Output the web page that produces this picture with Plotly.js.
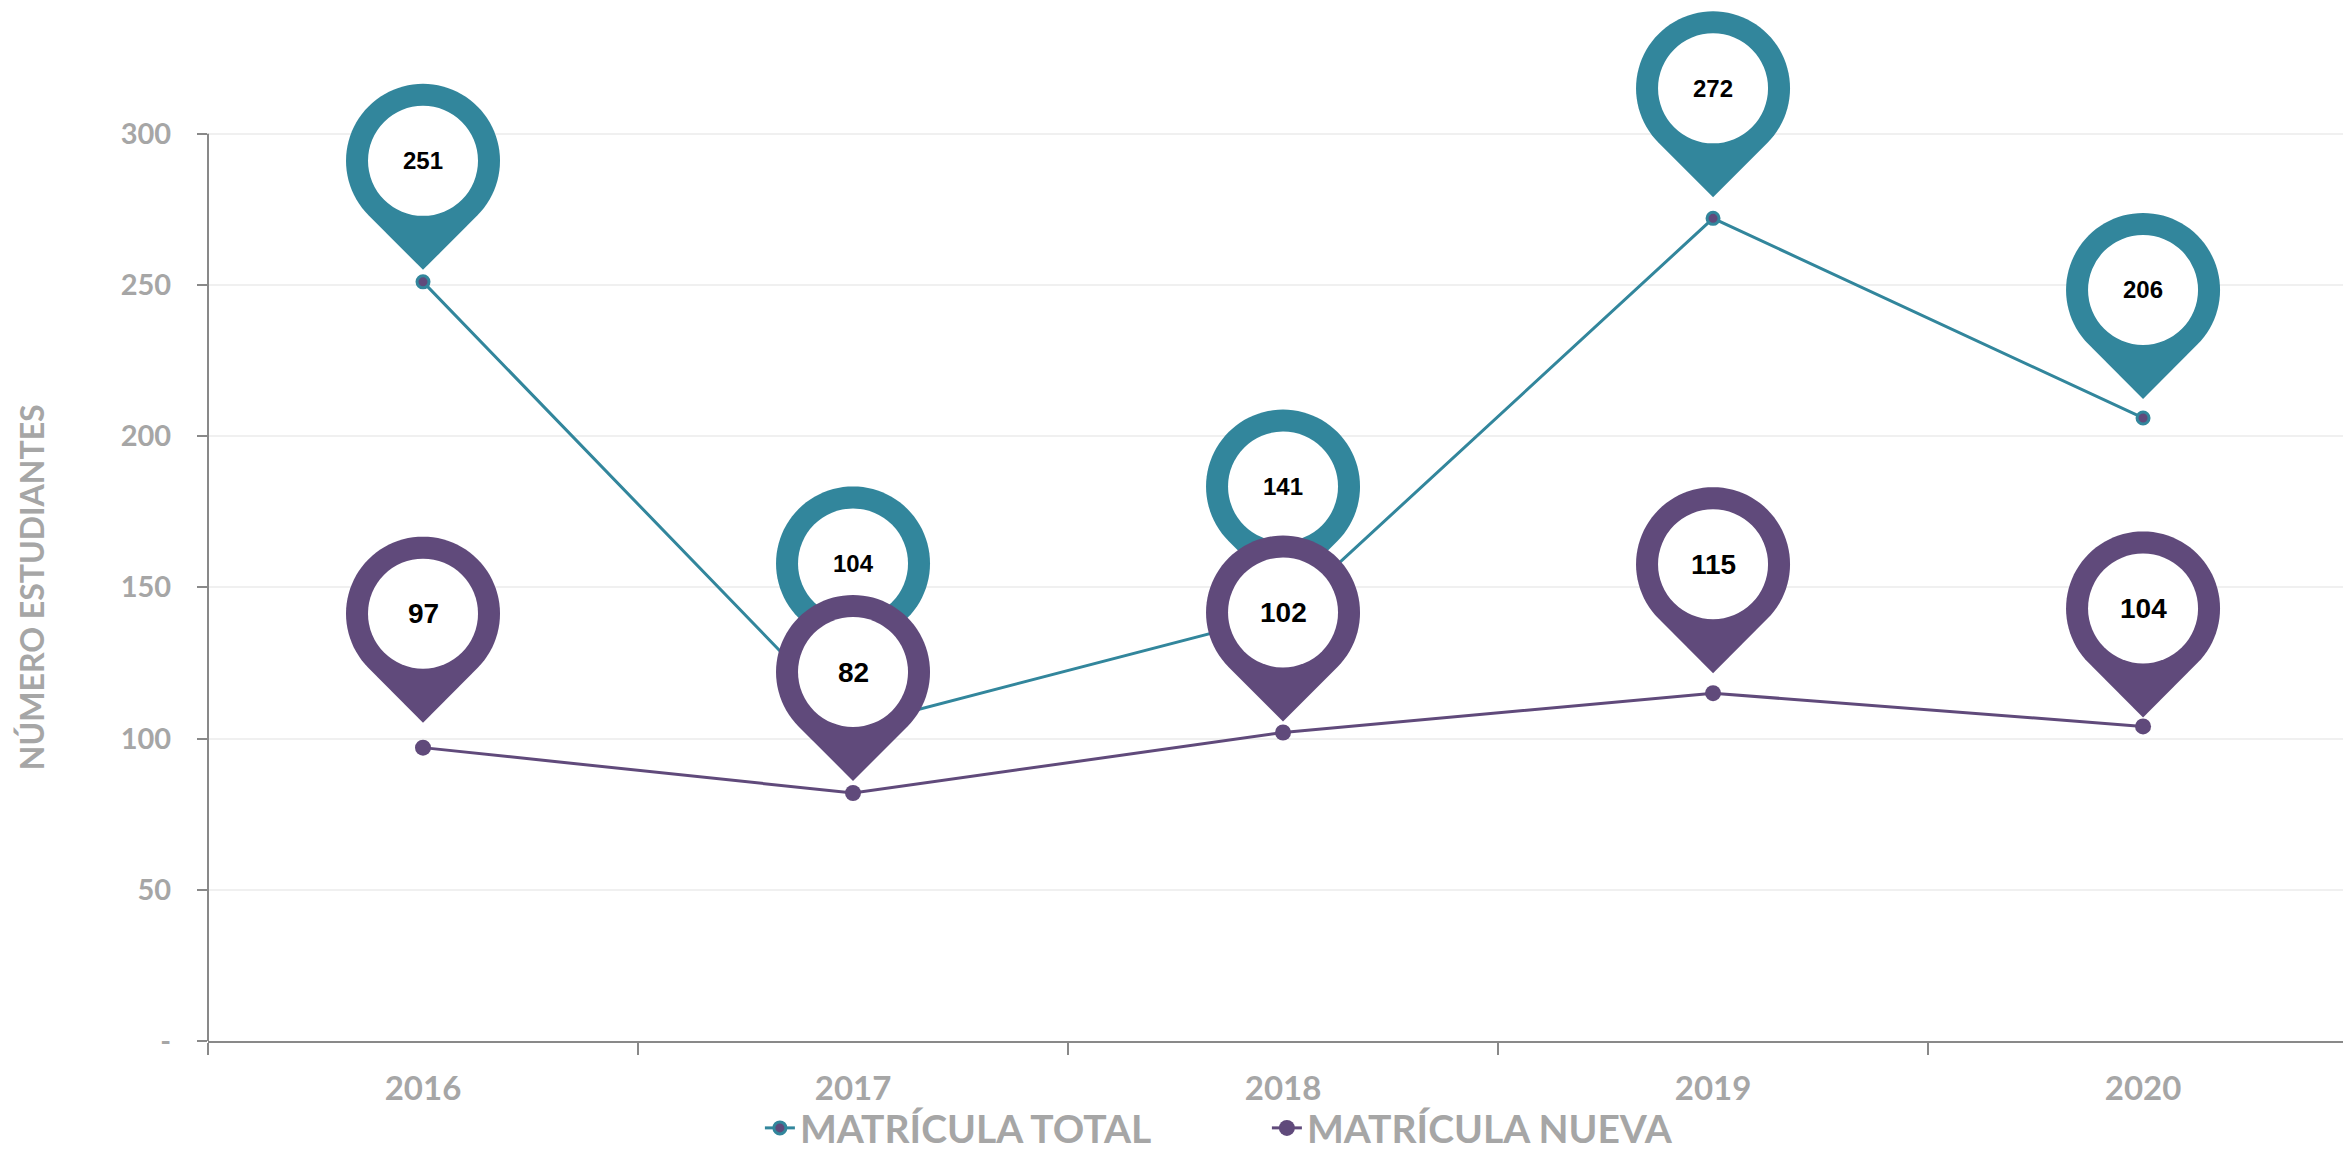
<!DOCTYPE html>
<html><head><meta charset="utf-8">
<script src="https://cdn.plot.ly/plotly-3.0.1.min.js"></script>
<style>html,body{margin:0;padding:0;background:#fff;} #chart{width:2343px;height:1150px;}</style>
</head><body><div id="chart"></div>
<script>
const years = ['2016','2017','2018','2019','2020'];
const matriculaTotal = [251,104,141,272,206];
const matriculaNueva = [97,82,102,115,104];
const yTickVals = [0,50,100,150,200,250,300];
const yTickText = ['-','50','100','150','200','250','300'];
const seriesNames = ['MATRÍCULA TOTAL','MATRÍCULA NUEVA'];
const axisTitle = 'NÚMERO ESTUDIANTES';

// pin placement: pixels from each point up to the pin centre
const pinLiftTotal = [121,163,128,130,128];
const pinLiftNueva = [134,121,120,129,118];

const TEAL = '#32869C', PURPLE = '#604A7B', GRAY = '#A6A6A6', AXIS = '#898989';
const R_OUT = 77, R_IN = 55, TIP = 109;

function pinPath(lift){
  const a = Math.acos(R_OUT / TIP);
  const start = -Math.PI/2 + a, end = 3*Math.PI/2 - a;
  let p = 'M0,' + (lift - TIP).toFixed(2);
  const N = 72;
  for(let k = 0; k <= N; k++){
    const t = start + (end - start) * k / N;
    p += ' L' + (R_OUT*Math.cos(t)).toFixed(2) + ',' + (lift + R_OUT*Math.sin(t)).toFixed(2);
  }
  return p + ' Z';
}

const shapes = [];
const annotations = [];
function addPins(values, lifts, color, fontSize){
  values.forEach((v, i) => {
    const L = lifts[i];
    shapes.push({type:'path', xref:'x', yref:'y', xsizemode:'pixel', ysizemode:'pixel',
      xanchor:i, yanchor:v, path:pinPath(L), fillcolor:color,
      line:{width:0, color:'rgba(0,0,0,0)'}, layer:'above'});
    shapes.push({type:'circle', xref:'x', yref:'y', xsizemode:'pixel', ysizemode:'pixel',
      xanchor:i, yanchor:v, x0:-R_IN, x1:R_IN, y0:L-R_IN, y1:L+R_IN, fillcolor:'#FFFFFF',
      line:{width:0, color:'rgba(0,0,0,0)'}, layer:'above'});
    annotations.push({x:i, y:v, xref:'x', yref:'y', yshift:L, text:String(v), showarrow:false,
      xanchor:'center', yanchor:'middle',
      font:{family:'Liberation Sans, Arial, sans-serif', size:fontSize, weight:'bold', color:'#000000'}});
  });
}
addPins(matriculaTotal, pinLiftTotal, TEAL, 24);
addPins(matriculaNueva, pinLiftNueva, PURPLE, 28);

// y axis line spanning only the ticked range
shapes.push({type:'line', xref:'paper', yref:'y', x0:0, x1:0, y0:yTickVals[0], y1:yTickVals[yTickVals.length-1],
  line:{color:AXIS, width:2}, layer:'above'});

annotations.push({xref:'paper', yref:'paper', x:-0.0829, y:0.436, text:axisTitle, textangle:-90,
  showarrow:false, xanchor:'center', yanchor:'middle',
  font:{family:'Lato, sans-serif', size:32, weight:'bold', color:GRAY}});

const traces = [
  {x:years, y:matriculaTotal, type:'scatter', mode:'lines+markers', name:seriesNames[0],
   line:{color:TEAL, width:3}, marker:{size:12, color:PURPLE, line:{color:TEAL, width:3}}},
  {x:years, y:matriculaNueva, type:'scatter', mode:'lines+markers', name:seriesNames[1],
   line:{color:PURPLE, width:3}, marker:{size:16, color:PURPLE}}
];

const layout = {
  width:2343, height:1150,
  margin:{l:208, r:0, t:0, b:109, autoexpand:false},
  paper_bgcolor:'#FFFFFF', plot_bgcolor:'#FFFFFF',
  font:{family:'Lato, sans-serif', color:GRAY},
  xaxis:{type:'category', range:[-0.5, 4.465], showgrid:false, zeroline:false,
    showline:true, linecolor:AXIS, linewidth:2, ticks:'outside', tickson:'boundaries',
    ticklen:12, tickwidth:1.5, tickcolor:AXIS, ticklabelstandoff:17,
    tickfont:{family:'Lato, sans-serif', size:33, weight:'bold', color:GRAY}},
  yaxis:{range:[0, 344.2], tickmode:'array', tickvals:yTickVals, ticktext:yTickText,
    showgrid:true, gridcolor:'#F0F0F0', gridwidth:2, zeroline:false, showline:false,
    ticks:'outside', ticklen:10, tickwidth:2, tickcolor:AXIS, ticklabelstandoff:20,
    tickfont:{family:'Lato, sans-serif', size:29, weight:'bold', color:GRAY}},
  showlegend:true,
  legend:{orientation:'h', x:0.2585, xanchor:'left', y:-0.0836, yanchor:'middle',
    entrywidth:462, entrywidthmode:'pixels', bgcolor:'rgba(0,0,0,0)',
    font:{family:'Lato, sans-serif', size:39, weight:'bold', color:GRAY}},
  shapes:shapes, annotations:annotations,
  hovermode:false
};

Plotly.newPlot('chart', traces, layout, {displayModeBar:false, staticPlot:true});
</script></body></html>
